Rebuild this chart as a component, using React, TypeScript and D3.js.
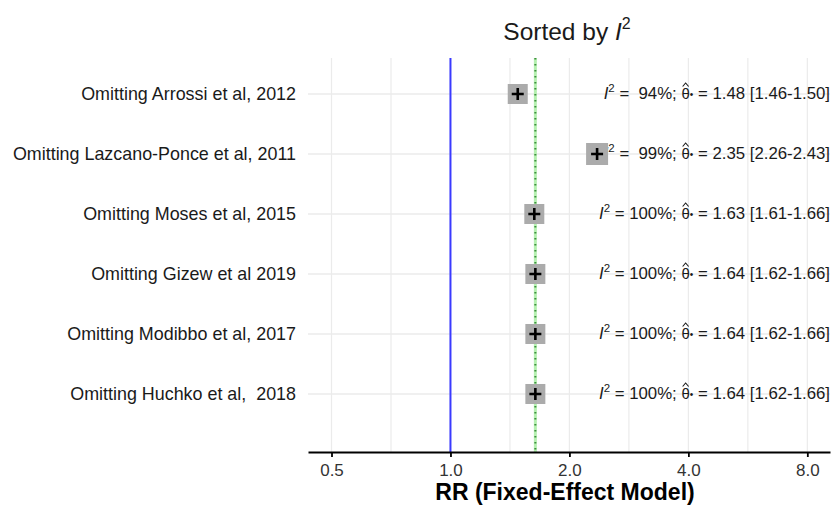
import React, { useEffect, useRef } from "react";
import * as d3 from "d3";

const studies = [
	"Omitting Arrossi et al, 2012",
	"Omitting Lazcano-Ponce et al, 2011",
	"Omitting Moses et al, 2015",
	"Omitting Gizew et al 2019",
	"Omitting Modibbo et al, 2017",
	"Omitting Huchko et al,  2018",
];
const i2 = [94, 99, 100, 100, 100, 100];
const est = [1.48, 2.35, 1.63, 1.64, 1.64, 1.64];
const lower = [1.46, 2.26, 1.61, 1.62, 1.62, 1.62];
const upper = [1.5, 2.43, 1.66, 1.66, 1.66, 1.66];
const pooled = 1.64;
const nullValue = 1.0;
const xTicks = [0.5, 1, 2, 4, 8];
const xDomain = [0.436, 9.13];

const App = () => {
	const ref = useRef<SVGSVGElement>(null);

	useEffect(() => {
		document.body.style.margin = "0";
		const width = 834;
		const height = 507;
		const margin = { top: 58, right: 4, bottom: 55, left: 308 };
		const font = "Liberation Sans, Arial, sans-serif";

		const svg = d3.select(ref.current);
		svg.selectAll("*").remove();

		const x = d3
			.scaleLog()
			.base(2)
			.domain(xDomain)
			.range([margin.left, width - margin.right]);

		const y = d3
			.scaleLinear()
			.domain([-0.6, 5.967])
			.range([margin.top, height - margin.bottom]);

		const top = margin.top;
		const bottom = height - margin.bottom;

		// grid
		const minor = xTicks.slice(0, -1).map((t, i) => Math.sqrt(t * xTicks[i + 1]));
		const grid = svg.append("g").attr("stroke", "#ebebeb").attr("stroke-width", 1.2);
		[...minor, ...xTicks].forEach((t) => {
			grid.append("line").attr("x1", x(t)).attr("x2", x(t)).attr("y1", top).attr("y2", bottom);
		});
		studies.forEach((_, i) => {
			grid
				.append("line")
				.attr("x1", margin.left)
				.attr("x2", width - margin.right)
				.attr("y1", y(i))
				.attr("y2", y(i))
				.attr("stroke-width", 1.5);
		});

		// reference lines
		svg
			.append("line")
			.attr("x1", x(nullValue))
			.attr("x2", x(nullValue))
			.attr("y1", top)
			.attr("y2", bottom)
			.attr("stroke", "#3a3aff")
			.attr("stroke-width", 2);
		svg
			.append("line")
			.attr("x1", x(pooled))
			.attr("x2", x(pooled))
			.attr("y1", top)
			.attr("y2", bottom)
			.attr("stroke", "#b5f0b0")
			.attr("stroke-width", 3);
		svg
			.append("line")
			.attr("x1", x(pooled))
			.attr("x2", x(pooled))
			.attr("y1", top)
			.attr("y2", bottom)
			.attr("stroke", "#3f8f3f")
			.attr("stroke-width", 2)
			.attr("stroke-dasharray", "1.6,4.4");

		// annotations (drawn under the points)
		studies.forEach((_, i) => {
			const baseline = y(i) + 5.5;
			const t = svg
				.append("text")
				.attr("x", width - 4)
				.attr("y", baseline)
				.attr("text-anchor", "end")
				.attr("font-family", font)
				.attr("font-size", 16.8)
				.attr("fill", "#1a1a1a")
				.style("white-space", "pre");
			t.append("tspan").attr("font-style", "italic").text("I");
			t.append("tspan").attr("font-size", 11.5).attr("dy", -7).text("2");
			const pct = String(i2[i]).padStart(3, " ");
			t.append("tspan").attr("dy", 7).text(` = ${pct}%; `);
			t.append("tspan").attr("font-size", 15).text("θ");
			t.append("tspan").attr("font-size", 10).attr("dy", -1).text("•");
			t.append("tspan")
				.attr("dy", 1)
				.text(` = ${est[i].toFixed(2)} [${lower[i].toFixed(2)}-${upper[i].toFixed(2)}]`);
			// hat above theta, drawn as a path
			const node = t.node() as SVGTextElement;
			const idx = (node.textContent || "").indexOf("θ");
			if (idx >= 0) {
				const ext = node.getExtentOfChar(idx);
				const hx = ext.x + ext.width / 2;
				svg
					.append("path")
					.attr("d", `M${hx - 3},${baseline - 13}L${hx},${baseline - 16.5}L${hx + 3},${baseline - 13}`)
					.attr("fill", "none")
					.attr("stroke", "#1a1a1a")
					.attr("stroke-width", 1.1);
			}
		});

		// points
		studies.forEach((_, i) => {
			const cx = x(est[i]);
			const cy = y(i);
			const s = i === 1 ? 11 : 10;
			svg
				.append("line")
				.attr("x1", x(lower[i]))
				.attr("x2", x(upper[i]))
				.attr("y1", cy)
				.attr("y2", cy)
				.attr("stroke", "#000");
			svg
				.append("rect")
				.attr("x", cx - s)
				.attr("y", cy - s)
				.attr("width", 2 * s)
				.attr("height", 2 * s)
				.attr("fill", "#ababab");
			svg
				.append("path")
				.attr("d", `M${cx - 6},${cy}H${cx + 6}M${cx},${cy - 6}V${cy + 6}`)
				.attr("stroke", "#000")
				.attr("stroke-width", 2.6);
		});

		// y labels
		studies.forEach((s, i) => {
			svg
				.append("text")
				.attr("x", margin.left - 12)
				.attr("y", y(i) + 6)
				.attr("text-anchor", "end")
				.attr("font-family", font)
				.attr("font-size", 17.9)
				.attr("fill", "#1a1a1a")
				.style("white-space", "pre")
				.text(s);
		});

		// x axis
		const axis = svg
			.append("g")
			.attr("transform", `translate(0,${bottom})`)
			.call(
				d3
					.axisBottom(x)
					.tickValues(xTicks)
					.tickFormat(d3.format(".1f"))
					.tickSize(5)
					.tickSizeOuter(0),
			);
		axis.select(".domain").attr("stroke", "#000").attr("stroke-width", 1.8);
		axis.selectAll(".tick line").attr("stroke", "#000").attr("stroke-width", 1.8);
		axis
			.selectAll(".tick text")
			.attr("font-family", font)
			.attr("font-size", 17)
			.attr("fill", "#333")
			.attr("dy", "0.95em");

		svg
			.append("text")
			.attr("x", (margin.left + width - margin.right) / 2 - 4)
			.attr("y", 500)
			.attr("text-anchor", "middle")
			.attr("font-family", font)
			.attr("font-size", 23)
			.attr("font-weight", "bold")
			.attr("fill", "#000")
			.text("RR (Fixed-Effect Model)");

		// title
		const title = svg
			.append("text")
			.attr("x", (margin.left + width - margin.right) / 2 - 2)
			.attr("y", 40)
			.attr("text-anchor", "middle")
			.attr("font-family", font)
			.attr("font-size", 24.5)
			.attr("fill", "#1a1a1a");
		title.append("tspan").text("Sorted by ");
		title.append("tspan").attr("font-style", "italic").text("I");
		title.append("tspan").attr("font-size", 16).attr("dy", -11).text("2");
	}, []);

	return <svg ref={ref} width={834} height={507} style={{ display: "block" }}></svg>;
};

export default App;
